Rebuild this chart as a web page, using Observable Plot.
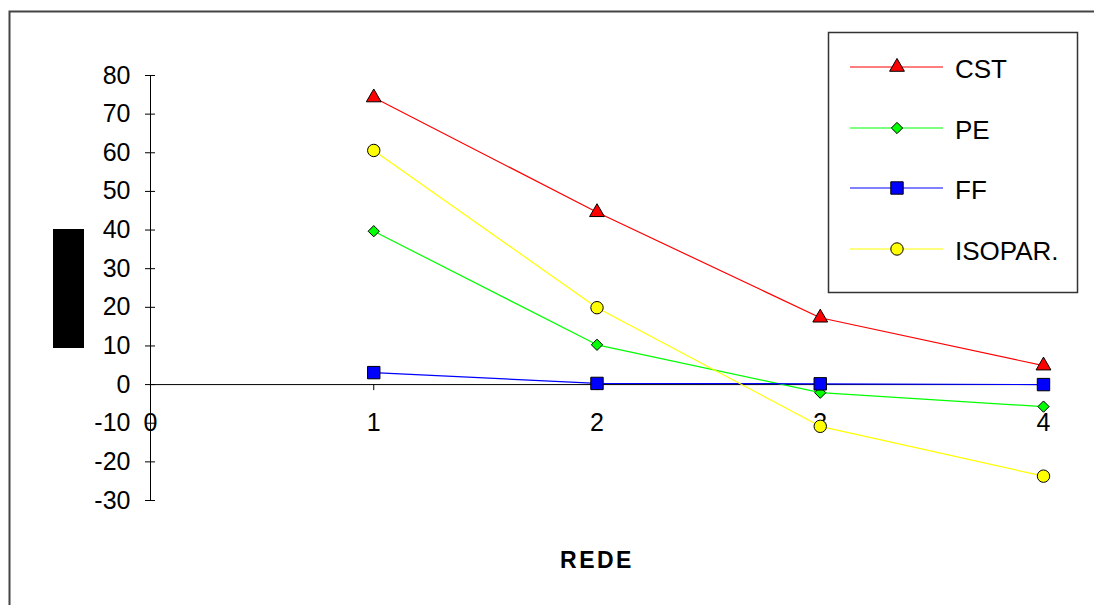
<!DOCTYPE html>
<html><head><meta charset="utf-8">
<script src="https://cdn.jsdelivr.net/npm/d3@7"></script>
<script src="https://cdn.jsdelivr.net/npm/@observablehq/plot@0.6"></script>
<style>body{margin:0;background:#fff;} #chart{position:relative;width:1094px;height:605px;}</style>
</head><body><div id="chart"></div>
<script>
const rede = [1, 2, 3, 4];
const cst = [74.3, 44.6, 17.3, 4.9];
const pe = [39.7, 10.3, -2.1, -5.7];
const ff = [3.1, 0.3, 0.2, 0.0];
const isopar = [60.6, 19.9, -10.8, -23.7];
const seriesNames = ["CST", "PE", "FF", "ISOPAR."];
const seriesColors = ["#FF0000", "#00FF00", "#0000FF", "#FFFF00"];
const xTicks = [0, 1, 2, 3, 4];
const yTicks = [-30, -20, -10, 0, 10, 20, 30, 40, 50, 60, 70, 80];
const xTitle = "REDE";

const FONT = '"Liberation Sans", Arial, Helvetica, sans-serif';
const diamondSym = {draw(ctx, size) { const s = Math.sqrt(size / 2); ctx.moveTo(0, -s); ctx.lineTo(s, 0); ctx.lineTo(0, s); ctx.lineTo(-s, 0); ctx.closePath(); }};
const symbols = [d3.symbolTriangle, diamondSym, d3.symbolSquare, d3.symbolCircle];
const radii = [5.5, 4.5, 7, 6.2];

const allValues = [cst, pe, ff, isopar];
const rows = [];
allValues.forEach((vals, s) => vals.forEach((v, i) => rows.push({rede: rede[i], value: v, series: seriesNames[s]})));

const marks = [
  Plot.ruleY([0], {stroke: "#000", strokeWidth: 1}),
  Plot.ruleX([0], {stroke: "#000", strokeWidth: 1}),
  Plot.ruleY(yTicks, {x1: () => 0, x2: () => 0, insetLeft: -5, insetRight: -5, stroke: "#000", strokeWidth: 1}),
  Plot.ruleX(xTicks.filter(d => d !== 0), {y1: () => 0, y2: () => 0, insetTop: 0, insetBottom: -6, stroke: "#000", strokeWidth: 1}),
  Plot.text(yTicks, {y: d => d, text: d => String(d), frameAnchor: "left", dx: -20, textAnchor: "end", lineAnchor: "middle", fontSize: 25, fill: "#000"}),
  Plot.text(xTicks, {x: d => d, text: d => String(d), frameAnchor: "bottom", dy: -78, lineAnchor: "middle", fontSize: 25, fill: "#000"}),
  Plot.text([xTitle], {text: d => d, frameAnchor: "bottom", dy: 60, lineAnchor: "middle", fontSize: 23, fontWeight: "bold", fill: "#000"}),
  Plot.line(rows, {x: "rede", y: "value", z: "series", stroke: "series", strokeWidth: 1.2})
];
seriesNames.forEach((name, s) => {
  marks.push(Plot.dot(rows.filter(r => r.series === name), {x: "rede", y: "value", symbol: () => symbols[s], r: radii[s], fill: seriesColors[s], stroke: "#000", strokeWidth: 1}));
});

const chart = Plot.plot({
  width: 1094, height: 605,
  marginLeft: 150, marginRight: 51, marginTop: 75, marginBottom: 105,
  x: {domain: [0, 4], axis: null},
  y: {domain: [-30, 80], axis: null},
  color: {domain: seriesNames, range: seriesColors},
  symbol: {type: "identity"},
  style: {fontFamily: FONT, background: "#fff", overflow: "visible"},
  marks
});
document.getElementById("chart").appendChild(chart);

const svg = d3.select(chart);
svg.selectAll("text").filter(function () { return this.textContent === xTitle; }).attr("letter-spacing", "2.5px");

// frame
svg.append("path").attr("d", "M9.5,605V11.5H1094").attr("fill", "none").attr("stroke", "#444").attr("stroke-width", 2);
// y-axis title block
svg.append("rect").attr("x", 53).attr("y", 229).attr("width", 31).attr("height", 119).attr("fill", "#000");

// legend
const lg = svg.append("g");
lg.append("rect").attr("x", 828.5).attr("y", 32.5).attr("width", 249).attr("height", 260).attr("fill", "#fff").attr("stroke", "#333").attr("stroke-width", 1.5);
const legendY = [67, 128, 188, 249];
seriesNames.forEach((name, s) => {
  const y = legendY[s];
  lg.append("line").attr("x1", 850).attr("x2", 943).attr("y1", y).attr("y2", y).attr("stroke", seriesColors[s]).attr("stroke-width", 1.2);
  lg.append("path").attr("d", d3.symbol(symbols[s], Math.PI * radii[s] * radii[s])()).attr("transform", `translate(897,${y})`).attr("fill", seriesColors[s]).attr("stroke", "#000").attr("stroke-width", 1);
  lg.append("text").attr("x", 955).attr("y", y + 2).attr("dy", "0.35em").attr("text-anchor", "start").attr("font-size", 26).attr("font-family", FONT).attr("fill", "#000").text(name);
});
</script></body></html>
